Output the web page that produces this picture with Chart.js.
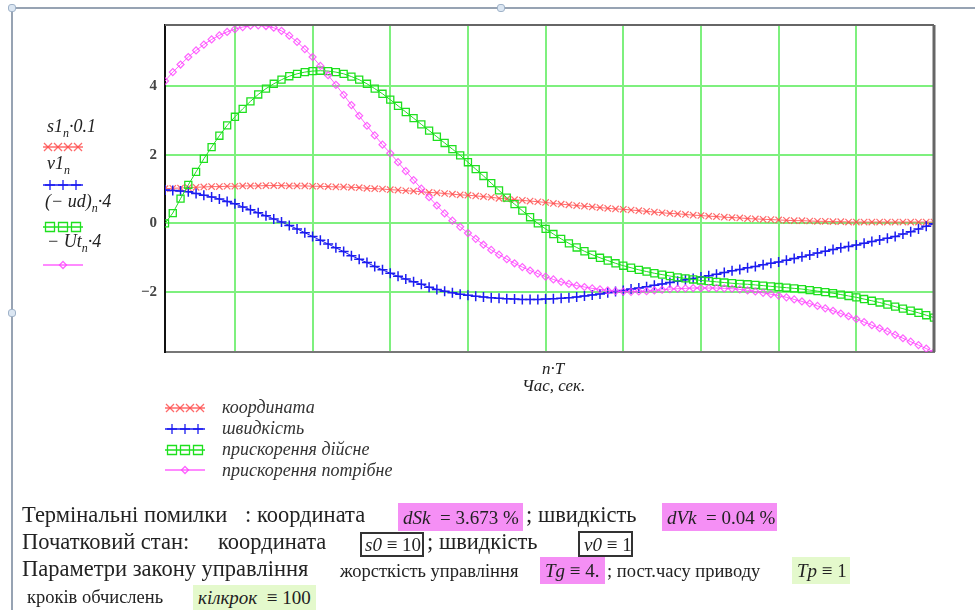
<!DOCTYPE html>
<html>
<head>
<meta charset="utf-8">
<script src="https://cdn.jsdelivr.net/npm/chart.js"></script>
<style>
  body { margin: 0; background: #fff; }
  #wrap { position: relative; width: 975px; height: 610px; overflow: hidden; font-family: "Liberation Serif", "DejaVu Serif", serif; color: #222; }
  #chart-box { position: absolute; left: 0; top: 0; width: 975px; height: 610px; }
  .t { position: absolute; white-space: nowrap; line-height: 1; }
  .i { font-style: italic; }
  .box { position: absolute; display: flex; align-items: center; white-space: nowrap; font-size: 19px; line-height: 1; box-sizing: border-box; padding-left: 5px; }
  .frame-v { position: absolute; left: 11px; top: 8px; width: 2px; height: 602px; background: #97a3b3; }
  .frame-h { position: absolute; left: 11px; top: 7px; width: 964px; height: 2px; background: #97a3b3; }
  .knob { position: absolute; width: 6px; height: 6px; border-radius: 3px; background: #dbe6f2; border: 1px solid #9fb2c8; }
</style>
</head>
<body>
<div id="wrap">
  <div id="chart-box"><canvas id="trace-chart"></canvas></div>
  <div class="frame-v"></div>
  <div class="frame-h"></div>
  <div class="knob" style="left:8px;top:4px"></div>
  <div class="knob" style="left:497px;top:4px"></div>
  <div class="knob" style="left:8px;top:309px"></div>

  <!-- trace names on the left -->
  <div class="t i" style="left:47px;top:117px;font-size:18px">s1<sub style="font-size:12px">n</sub>·0.1</div>
  <div class="t i" style="left:47px;top:154px;font-size:18px">v1<sub style="font-size:12px">n</sub></div>
  <div class="t i" style="left:45px;top:192px;font-size:18px">(− ud)<sub style="font-size:12px">n</sub>·4</div>
  <div class="t i" style="left:47px;top:232px;font-size:18px">− Ut<sub style="font-size:12px">n</sub>·4</div>

  <!-- x axis name -->
  <div class="t i" style="left:542px;top:360px;font-size:17px">n·T</div>
  <div class="t i" style="left:522px;top:377px;font-size:17px">Час, сек.</div>

  <!-- legend -->
  <div class="t i" style="left:222px;top:398px;font-size:18px;color:#333">координата</div>
  <div class="t i" style="left:222px;top:419px;font-size:18px;color:#333">швидкість</div>
  <div class="t i" style="left:222px;top:440px;font-size:18px;color:#333">прискорення дійсне</div>
  <div class="t i" style="left:222px;top:461px;font-size:18px;color:#333">прискорення потрібне</div>

  <!-- results -->
  <div class="t" style="left:22px;top:504px;font-size:22.5px">Термінальні помилки</div>
  <div class="t" style="left:245px;top:504px;font-size:22.5px">: координата</div>
  <div class="box" style="left:398px;top:503px;width:125px;height:28px;background:#f58ff5"><span class="i">dSk</span>&nbsp;&nbsp;= 3.673 %</div>
  <div class="t" style="left:526px;top:504px;font-size:22.5px">; швидкість</div>
  <div class="box" style="left:662px;top:503px;width:115px;height:28px;background:#f58ff5"><span class="i">dVk</span>&nbsp;&nbsp;= 0.04 %</div>

  <div class="t" style="left:22px;top:531px;font-size:22.5px">Початковий стан:</div>
  <div class="t" style="left:218px;top:531px;font-size:22.5px">координата</div>
  <div class="box" style="left:360px;top:532px;width:64px;height:25px;border:2px solid #333;padding-left:3px"><span class="i">s0</span>&nbsp;≡ 10</div>
  <div class="t" style="left:427px;top:531px;font-size:22.5px">; швидкість</div>
  <div class="box" style="left:578px;top:531px;width:55px;height:26px;border:2px solid #333;padding-left:4px"><span class="i">v0</span>&nbsp;≡ 1</div>

  <div class="t" style="left:22px;top:558px;font-size:22.5px">Параметри закону управління</div>
  <div class="t" style="left:340px;top:562px;font-size:18.5px">жорсткість управління</div>
  <div class="box" style="left:540px;top:557px;width:65px;height:27px;background:#f58ff5"><span class="i">Tg</span>&nbsp;≡ 4.</div>
  <div class="t" style="left:607px;top:562px;font-size:18.5px">; пост.часу приводу</div>
  <div class="box" style="left:792px;top:557px;width:58px;height:27px;background:#e4f9cc"><span class="i">Tp</span>&nbsp;≡ 1</div>

  <div class="t" style="left:27px;top:588px;font-size:18.5px">кроків обчислень</div>
  <div class="box" style="left:193px;top:585px;width:123px;height:25px;background:#e4f9cc"><span class="i">кілкрок</span>&nbsp;&nbsp;≡ 100</div>
</div>

<script>
// time step and step numbers (n = 1..100)
const T = 0.1;
const steps = Array.from({ length: 100 }, (_, i) => i + 1);

// s1·0.1 - coordinate
const coordinate = [
  1.01, 1.02, 1.03, 1.04, 1.05, 1.06, 1.07, 1.07, 1.08, 1.08,
  1.09, 1.09, 1.09, 1.10, 1.10, 1.10, 1.09, 1.09, 1.09, 1.08,
  1.08, 1.07, 1.06, 1.06, 1.05, 1.04, 1.02, 1.01, 1.00, 0.98,
  0.97, 0.95, 0.94, 0.92, 0.90, 0.89, 0.87, 0.85, 0.83, 0.82,
  0.80, 0.78, 0.76, 0.73, 0.71, 0.69, 0.67, 0.65, 0.63, 0.61,
  0.58, 0.56, 0.54, 0.52, 0.50, 0.48, 0.46, 0.44, 0.42, 0.41,
  0.39, 0.37, 0.35, 0.33, 0.31, 0.29, 0.28, 0.26, 0.24, 0.23,
  0.21, 0.20, 0.18, 0.17, 0.16, 0.14, 0.13, 0.12, 0.11, 0.10,
  0.09, 0.08, 0.08, 0.07, 0.06, 0.06, 0.05, 0.05, 0.04, 0.04,
  0.04, 0.04, 0.04, 0.04, 0.04, 0.04, 0.04, 0.04, 0.04, 0.04
];

// v1 - speed
const speed = [
  0.97, 0.96, 0.94, 0.92, 0.87, 0.82, 0.77, 0.71, 0.64, 0.57,
  0.48, 0.40, 0.31, 0.22, 0.13, 0.04, -0.06, -0.16, -0.27, -0.38,
  -0.49, -0.60, -0.71, -0.82, -0.94, -1.04, -1.14, -1.25, -1.35, -1.45,
  -1.54, -1.62, -1.70, -1.77, -1.86, -1.92, -1.97, -2.02, -2.06, -2.09,
  -2.12, -2.14, -2.16, -2.18, -2.19, -2.20, -2.21, -2.21, -2.21, -2.20,
  -2.19, -2.18, -2.16, -2.14, -2.11, -2.08, -2.05, -2.02, -1.98, -1.95,
  -1.91, -1.88, -1.84, -1.80, -1.76, -1.72, -1.68, -1.64, -1.60, -1.56,
  -1.52, -1.48, -1.43, -1.38, -1.34, -1.29, -1.25, -1.20, -1.16, -1.12,
  -1.07, -1.02, -0.97, -0.92, -0.86, -0.81, -0.76, -0.71, -0.67, -0.63,
  -0.58, -0.53, -0.48, -0.43, -0.38, -0.31, -0.24, -0.16, -0.08, -0.01
];

// (-ud)·4 - actual acceleration
const accelActual = [
  0.00, 0.30, 0.72, 1.12, 1.50, 1.88, 2.22, 2.55, 2.85, 3.10,
  3.33, 3.55, 3.75, 3.92, 4.06, 4.18, 4.28, 4.35, 4.40, 4.43,
  4.44, 4.43, 4.40, 4.35, 4.27, 4.18, 4.06, 3.92, 3.77, 3.60,
  3.42, 3.24, 3.06, 2.88, 2.70, 2.52, 2.34, 2.16, 1.98, 1.78,
  1.58, 1.38, 1.17, 0.96, 0.75, 0.56, 0.37, 0.18, 0.00, -0.16,
  -0.31, -0.45, -0.58, -0.70, -0.81, -0.91, -1.00, -1.08, -1.16, -1.23,
  -1.29, -1.35, -1.40, -1.45, -1.49, -1.53, -1.57, -1.60, -1.63, -1.66,
  -1.68, -1.70, -1.72, -1.74, -1.76, -1.77, -1.79, -1.81, -1.83, -1.85,
  -1.87, -1.89, -1.91, -1.94, -1.97, -2.00, -2.03, -2.07, -2.11, -2.15,
  -2.20, -2.25, -2.30, -2.36, -2.42, -2.48, -2.54, -2.60, -2.67, -2.74
];

// -Ut·4 - required acceleration
const accelRequired = [
  4.14, 4.40, 4.62, 4.84, 5.03, 5.20, 5.35, 5.47, 5.57, 5.65,
  5.71, 5.75, 5.76, 5.74, 5.69, 5.60, 5.46, 5.28, 5.07, 4.84,
  4.58, 4.31, 4.03, 3.74, 3.44, 3.13, 2.84, 2.56, 2.29, 2.04,
  1.78, 1.52, 1.26, 1.01, 0.76, 0.52, 0.29, 0.08, -0.10, -0.28,
  -0.45, -0.62, -0.77, -0.91, -1.04, -1.16, -1.27, -1.37, -1.46, -1.55,
  -1.63, -1.70, -1.76, -1.81, -1.85, -1.89, -1.92, -1.95, -1.97, -1.98,
  -1.99, -1.98, -1.97, -1.95, -1.93, -1.91, -1.90, -1.89, -1.88, -1.88,
  -1.88, -1.88, -1.89, -1.90, -1.92, -1.95, -1.98, -2.02, -2.06, -2.10,
  -2.15, -2.21, -2.27, -2.33, -2.40, -2.47, -2.54, -2.62, -2.70, -2.78,
  -2.87, -2.96, -3.05, -3.14, -3.24, -3.34, -3.44, -3.54, -3.64, -3.74
];

const yTicks = [-2, 0, 2, 4];
const xGrid = [1, 2, 3, 4, 5, 6, 7, 8, 9];

const RED = 'rgba(255, 70, 70, 0.8)';
const BLUE = '#1c1cf0';
const GREEN = '#1ee01e';
const MAGENTA = 'rgba(255, 60, 255, 0.8)';

function points(values) {
  return steps.map((n, i) => ({ x: n * T, y: values[i] }));
}

// small marker drawing for the legend samples
function mark(ctx, style, x, y, r) {
  ctx.beginPath();
  if (style === 'crossRot') {
    ctx.moveTo(x - r, y - r); ctx.lineTo(x + r, y + r);
    ctx.moveTo(x - r, y + r); ctx.lineTo(x + r, y - r);
  } else if (style === 'cross') {
    ctx.moveTo(x - r, y); ctx.lineTo(x + r, y);
    ctx.moveTo(x, y - r); ctx.lineTo(x, y + r);
  } else if (style === 'rect') {
    ctx.rect(x - r, y - r, 2 * r, 2 * r);
  } else {
    ctx.moveTo(x, y - r); ctx.lineTo(x + r, y); ctx.lineTo(x, y + r); ctx.lineTo(x - r, y); ctx.closePath();
  }
  ctx.stroke();
}

function sample(ctx, x0, y, color, style, xs, r) {
  ctx.strokeStyle = color;
  ctx.lineWidth = 1.3;
  ctx.beginPath();
  ctx.moveTo(x0, y); ctx.lineTo(x0 + 40, y);
  ctx.stroke();
  xs.forEach(dx => mark(ctx, style, x0 + dx, y, r));
}

const extras = {
  id: 'extras',
  afterDraw(chart) {
    const { ctx, chartArea: a } = chart;
    ctx.save();
    // plot box
    ctx.strokeStyle = '#666';
    ctx.lineWidth = 2;
    ctx.beginPath();
    ctx.moveTo(a.left, a.top); ctx.lineTo(a.right, a.top);
    ctx.stroke();
    ctx.lineWidth = 3;
    ctx.beginPath();
    ctx.moveTo(a.right, a.top); ctx.lineTo(a.right, a.bottom);
    ctx.stroke();
    // samples next to trace names
    sample(ctx, 43, 147, RED, 'crossRot', [5, 15, 25, 35], 4);
    sample(ctx, 43, 185, BLUE, 'cross', [7, 20, 33], 5);
    sample(ctx, 43, 227, GREEN, 'rect', [7, 20, 33], 4.5);
    sample(ctx, 43, 265, MAGENTA, 'rectRot', [20], 3.5);
    // legend samples
    sample(ctx, 165, 408, RED, 'crossRot', [5, 15, 25, 35], 4);
    sample(ctx, 165, 429, BLUE, 'cross', [7, 20, 33], 5);
    sample(ctx, 165, 450, GREEN, 'rect', [7, 20, 33], 4.5);
    sample(ctx, 165, 470, MAGENTA, 'rectRot', [20], 3.5);
    ctx.restore();
  }
};

document.addEventListener('DOMContentLoaded', function() {
  const ctx = document.getElementById('trace-chart').getContext('2d');
  new Chart(ctx, {
    type: 'line',
    data: {
      datasets: [
        {
          label: 'координата',
          data: points(coordinate),
          borderColor: RED,
          borderWidth: 1,
          pointStyle: 'crossRot',
          pointRadius: 4.5,
          pointBorderWidth: 1.2,
          pointBorderColor: RED,
          order: 4
        },
        {
          label: 'швидкість',
          data: points(speed),
          borderColor: BLUE,
          borderWidth: 1,
          pointStyle: 'cross',
          pointRadius: 5,
          pointBorderWidth: 1.5,
          pointBorderColor: BLUE,
          order: 3
        },
        {
          label: 'прискорення дійсне',
          data: points(accelActual),
          borderColor: GREEN,
          borderWidth: 1,
          pointStyle: 'rect',
          pointRadius: 5,
          pointBorderWidth: 1.3,
          pointBorderColor: GREEN,
          pointBackgroundColor: 'rgba(0,0,0,0)',
          order: 2
        },
        {
          label: 'прискорення потрібне',
          data: points(accelRequired),
          borderColor: MAGENTA,
          borderWidth: 1,
          pointStyle: 'rectRot',
          pointRadius: 3.5,
          pointBorderWidth: 1.2,
          pointBorderColor: MAGENTA,
          pointBackgroundColor: 'rgba(0,0,0,0)',
          order: 1
        }
      ]
    },
    options: {
      responsive: true,
      maintainAspectRatio: false,
      animation: false,
      layout: { padding: { left: 135, top: 25, right: 41, bottom: 258 } },
      plugins: { legend: { display: false }, tooltip: { enabled: false } },
      scales: {
        x: {
          type: 'linear',
          min: 0.1,
          max: 10,
          afterBuildTicks: s => { s.ticks = xGrid.map(v => ({ value: v })); },
          afterFit: s => { s.height = 0; },
          ticks: { display: false },
          grid: { color: '#7ef07e', lineWidth: 2, drawTicks: false },
          border: { display: true, color: '#777', width: 2 }
        },
        y: {
          min: -3.74,
          max: 5.77,
          afterBuildTicks: s => { s.ticks = yTicks.map(v => ({ value: v })); },
          afterFit: s => { s.width = 30; },
          ticks: {
            padding: 8,
            color: '#444',
            font: { family: 'Liberation Serif', size: 15, weight: 'bold' },
            callback: v => String(v).replace('-', '\u2212')
          },
          grid: { color: '#7ef07e', lineWidth: 2, drawTicks: false },
          border: { display: true, color: '#111', width: 2 }
        }
      }
    },
    plugins: [extras]
  });
});
</script>
</body>
</html>
